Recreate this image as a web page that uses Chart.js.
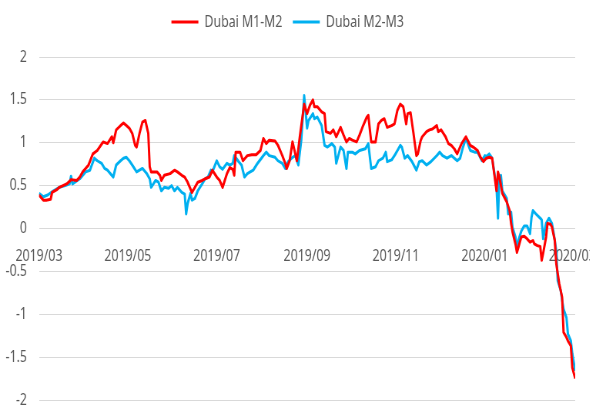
<!DOCTYPE html>
<html>
<head>
<meta charset="utf-8">
<script src="https://cdn.jsdelivr.net/npm/chart.js@4.4.0/dist/chart.umd.min.js"></script>
<style>
  html, body { margin: 0; padding: 0; width: 590px; height: 411px; overflow: hidden; background: #fff; }
  /* the reference text is horizontally condensed, so draw wide and squeeze */
  #wrap { position: absolute; left: 0; top: 0; width: 805px; height: 411px; transform: scaleX(0.77); transform-origin: 0 0; }
</style>
</head>
<body>
<div id="wrap"><canvas id="spreadChart"></canvas></div>
<script>
// days since 2019-03-01
const m1m2Days = [
  0, 3, 5, 8, 9, 12, 14, 19, 21, 22,
  26, 28, 30, 34, 37, 40, 44, 47, 50, 51,
  53, 56, 58, 60, 62, 64, 66, 67, 69, 71,
  73, 75, 76, 77, 81, 83, 84, 86, 90, 93,
  95, 98, 100, 102, 105, 107, 109, 112, 114, 117,
  119, 122, 124, 126, 129, 131, 133, 134, 135, 138,
  140, 143, 146, 149, 152, 154, 156, 158, 162, 164,
  167, 169, 170, 172, 174, 177, 179, 182, 184, 186,
  188, 189, 191, 194, 196, 197, 200, 202, 204, 207,
  209, 211, 213, 215, 218, 220, 222, 225, 226, 228,
  231, 233, 235, 237, 239, 242, 244, 246, 248, 250,
  252, 253, 255, 257, 259, 260, 262, 263, 266, 268,
  270, 273, 274, 276, 279, 281, 283, 285, 287, 290,
  293, 296, 298, 301, 303, 305, 307, 309, 311, 314,
  315, 316, 318, 321, 323, 324, 325, 327, 328, 329,
  331, 333, 335, 337, 339, 340, 342, 344, 345, 346,
  348, 349, 351, 352, 354, 355, 357, 359, 360, 362,
  363, 365, 366, 368
];
const m1m2Values = [
  0.39, 0.33, 0.33, 0.34, 0.42, 0.45, 0.48, 0.52, 0.55, 0.57,
  0.56, 0.60, 0.66, 0.74, 0.87, 0.91, 1.01, 0.99, 1.07, 1.00,
  1.15, 1.20, 1.23, 1.20, 1.17, 1.11, 0.97, 0.95, 1.11, 1.24,
  1.26, 1.11, 0.72, 0.66, 0.66, 0.62, 0.56, 0.62, 0.64, 0.68,
  0.66, 0.62, 0.60, 0.54, 0.42, 0.48, 0.54, 0.56, 0.58, 0.60,
  0.68, 0.60, 0.56, 0.48, 0.64, 0.71, 0.69, 0.62, 0.89, 0.89,
  0.79, 0.85, 0.86, 0.86, 0.91, 1.05, 0.99, 1.03, 1.02, 0.97,
  0.85, 0.76, 0.70, 0.79, 1.01, 0.79, 1.07, 1.45, 1.34, 1.44,
  1.50, 1.42, 1.42, 1.36, 1.34, 1.13, 1.11, 1.15, 1.07, 1.18,
  1.09, 1.01, 1.05, 1.03, 1.01, 1.09, 1.18, 1.30, 1.32, 1.01,
  1.01, 1.22, 1.26, 1.28, 1.18, 1.20, 1.22, 1.38, 1.45, 1.42,
  1.22, 1.34, 1.35, 1.11, 0.85, 0.87, 1.03, 1.07, 1.13, 1.15,
  1.16, 1.20, 1.13, 1.15, 1.07, 0.99, 0.97, 0.93, 0.87, 0.99,
  1.07, 0.97, 0.95, 0.91, 0.83, 0.78, 0.82, 0.83, 0.82, 0.44,
  0.66, 0.60, 0.41, 0.31, 0.21, 0.06, -0.04, -0.18, -0.28, -0.22,
  -0.10, -0.09, -0.12, -0.16, -0.14, -0.18, -0.20, -0.21, -0.37, -0.29,
  -0.10, 0.06, 0.05, 0.02, -0.14, -0.41, -0.64, -0.80, -1.21, -1.27,
  -1.31, -1.37, -1.62, -1.75
];

const m2m3Days = [
  0, 3, 6, 10, 14, 18, 21, 22, 23, 28,
  32, 35, 38, 40, 43, 45, 47, 51, 53, 56,
  58, 60, 62, 64, 67, 69, 71, 74, 76, 77,
  80, 82, 84, 86, 89, 91, 93, 95, 98, 100,
  101, 102, 104, 105, 107, 109, 112, 114, 116, 118,
  119, 122, 124, 126, 129, 131, 133, 134, 137, 139,
  141, 143, 147, 150, 154, 156, 158, 162, 164, 167,
  169, 171, 174, 176, 178, 180, 182, 184, 185, 188,
  189, 191, 194, 196, 198, 201, 203, 204, 207, 209,
  211, 212, 215, 217, 220, 224, 226, 228, 231, 233,
  236, 238, 239, 242, 244, 248, 249, 251, 253, 256,
  259, 261, 263, 266, 269, 273, 275, 277, 280, 283,
  287, 289, 291, 293, 296, 299, 301, 304, 306, 307,
  309, 311, 314, 315, 316, 317, 318, 321, 322, 324,
  325, 327, 328, 329, 331, 333, 335, 337, 338, 339,
  341, 344, 345, 346, 348, 350, 352, 353, 355, 356,
  358, 360, 362, 363, 365, 366, 368
];
const m2m3Values = [
  0.41, 0.37, 0.39, 0.44, 0.48, 0.50, 0.52, 0.61, 0.52, 0.58,
  0.66, 0.68, 0.82, 0.79, 0.76, 0.70, 0.68, 0.60, 0.74, 0.79,
  0.82, 0.83, 0.79, 0.74, 0.66, 0.68, 0.70, 0.64, 0.58, 0.48,
  0.56, 0.54, 0.44, 0.48, 0.47, 0.50, 0.44, 0.48, 0.42, 0.40,
  0.17, 0.29, 0.41, 0.33, 0.35, 0.44, 0.52, 0.58, 0.60, 0.68,
  0.66, 0.79, 0.72, 0.69, 0.76, 0.74, 0.76, 0.85, 0.78, 0.74,
  0.60, 0.64, 0.68, 0.76, 0.85, 0.89, 0.85, 0.83, 0.79, 0.76,
  0.70, 0.78, 0.83, 0.85, 0.74, 1.03, 1.55, 1.17, 1.26, 1.34,
  1.28, 1.30, 1.20, 0.97, 0.95, 0.99, 0.95, 0.76, 0.95, 0.91,
  0.70, 0.89, 0.89, 0.87, 0.91, 0.93, 0.99, 0.70, 0.72, 0.79,
  0.82, 0.89, 0.78, 0.80, 0.85, 0.97, 0.95, 0.82, 0.85, 0.78,
  0.68, 0.78, 0.79, 0.74, 0.78, 0.85, 0.89, 0.85, 0.82, 0.85,
  0.79, 0.82, 0.95, 1.05, 0.91, 0.89, 0.89, 0.79, 0.85, 0.84,
  0.87, 0.82, 0.48, 0.12, 0.60, 0.62, 0.44, 0.35, 0.17, 0.19,
  0.01, -0.10, -0.24, -0.14, -0.03, 0.03, 0.03, -0.06, 0.13, 0.21,
  0.17, 0.12, 0.10, -0.12, 0.06, 0.12, 0.06, -0.03, -0.26, -0.61,
  -0.72, -0.94, -1.04, -1.23, -1.31, -1.46, -1.66
];

const tickLabels = ['2019/03', '2019/05', '2019/07', '2019/09', '2019/11', '2020/01', '2020/03'];
const yTicks = [2, 1.5, 1, 0.5, 0, -0.5, -1, -1.5, -2];

const start = Date.UTC(2019, 2, 1);
const tickDays = tickLabels.map(l => {
  const [y, m] = l.split('/').map(Number);
  return (Date.UTC(y, m - 1, 1) - start) / 86400000;
});

const toPoints = (days, vals) => days.map((d, i) => ({ x: d, y: vals[i] }));

// push the plot down below the legend
const legendGap = {
  id: 'legendGap',
  beforeInit(chart) {
    const fit = chart.legend.fit;
    chart.legend.fit = function () {
      fit.bind(chart.legend)();
      this.height += 17;
    };
  }
};

const ctx = document.getElementById('spreadChart').getContext('2d');
new Chart(ctx, {
  type: 'line',
  data: {
    datasets: [
      {
        label: 'Dubai M1-M2',
        data: toPoints(m1m2Days, m1m2Values),
        borderColor: '#ff0000',
        backgroundColor: '#ff0000',
        borderWidth: 3,
        pointRadius: 0,
        tension: 0,
        borderJoinStyle: 'round'
      },
      {
        label: 'Dubai M2-M3',
        data: toPoints(m2m3Days, m2m3Values),
        borderColor: '#00b0f0',
        backgroundColor: '#00b0f0',
        borderWidth: 3,
        pointRadius: 0,
        tension: 0,
        borderJoinStyle: 'round'
      }
    ]
  },
  options: {
    responsive: true,
    maintainAspectRatio: false,
    animation: false,
    layout: { padding: { top: 0.5, right: 58, bottom: 11, left: 0 } },
    plugins: {
      legend: {
        position: 'top',
        labels: {
          usePointStyle: true,
          pointStyle: 'line',
          pointStyleWidth: 35,
          padding: 13.5,
          color: '#595959',
          font: { family: 'Noto Sans', size: 16 }
        }
      },
      tooltip: { enabled: false }
    },
    scales: {
      x: {
        type: 'linear',
        position: { y: 0 },
        min: 0,
        max: 368,
        grid: { display: false, drawTicks: false },
        border: { display: false },
        afterBuildTicks: axis => { axis.ticks = tickDays.map(v => ({ value: v })); },
        ticks: {
          autoSkip: false,
          maxRotation: 0,
          padding: 18,
          color: '#595959',
          font: { family: 'Noto Sans', size: 16 },
          callback: (v, i) => tickLabels[i]
        }
      },
      y: {
        min: -2,
        max: 2,
        afterBuildTicks: axis => { axis.ticks = yTicks.map(v => ({ value: v })); },
        afterFit: scale => {
          scale.width = 50.6;
          scale.paddingTop = 0;
          scale.paddingBottom = 0;
        },
        grid: { color: '#d9d9d9', lineWidth: 1, drawTicks: false },
        border: { display: false },
        ticks: {
          padding: 15.6,
          color: '#595959',
          font: { family: 'Noto Sans', size: 16 },
          callback: v => String(v)
        }
      }
    }
  },
  plugins: [legendGap]
});
</script>
</body>
</html>
